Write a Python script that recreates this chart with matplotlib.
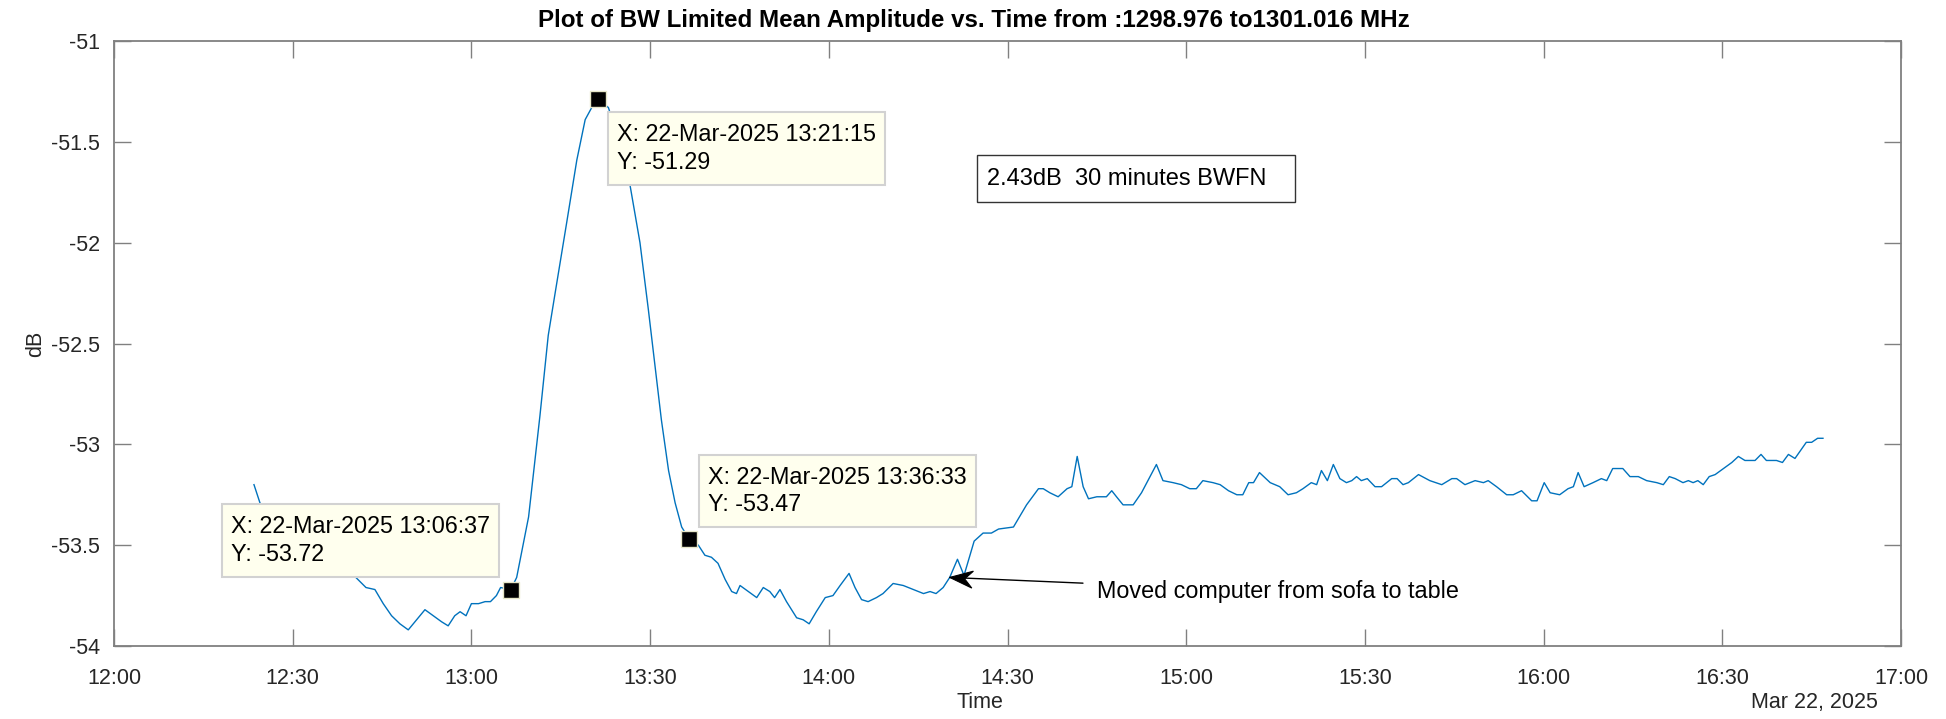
import datetime as dt
import numpy as np
import matplotlib
matplotlib.use("Agg")
import matplotlib.pyplot as plt
import matplotlib.dates as mdates
from matplotlib.patches import Rectangle, Polygon
from matplotlib.transforms import IdentityTransform
from matplotlib.ticker import FuncFormatter, MultipleLocator

plt.rcParams['font.family'] = ['Liberation Sans', 'DejaVu Sans']

# ---- data -------------------------------------------------------------
session_start = dt.datetime(2025, 3, 22, 12, 0, 0)

elapsed_min = [
    23.5, 24.5, 27.0, 30.0, 33.0, 36.0, 38.5, 40.6, 42.3, 43.8,
    45.2, 46.6, 48.0, 49.4, 50.8, 52.2, 53.6, 55.0, 56.1, 57.2,
    58.1, 59.1, 60.0, 61.2, 62.3, 63.2, 64.2, 64.9, 66.6167, 67.6,
    69.6, 71.5, 72.9, 74.0, 76.0, 77.7, 79.1, 80.2, 81.25, 83.0,
    84.8, 86.6, 88.3, 89.7, 91.9, 93.1, 94.2, 95.3, 96.55, 98.1,
    99.2, 100.3, 101.4, 102.6, 103.7, 104.5, 105.1, 106.5, 107.9, 109.0,
    110.1, 110.9, 111.8, 112.9, 114.6, 115.7, 116.7, 117.9, 119.4, 120.7,
    121.9, 123.4, 124.4, 125.5, 126.6, 128.0, 129.1, 130.8, 132.5, 134.2,
    135.9, 137.0, 138.0, 139.2, 140.3, 141.6, 142.7, 144.4, 145.9, 147.3,
    148.5, 151.0, 153.2, 155.2, 156.0, 157.1, 158.5, 160.0, 160.8, 161.7,
    162.7, 163.6, 165.0, 166.6, 167.5, 168.3, 169.4, 171.1, 172.5, 175.0,
    176.1, 177.8, 179.2, 180.6, 181.7, 182.8, 184.5, 185.7, 187.1, 188.5,
    189.5, 190.5, 191.3, 192.3, 194.1, 195.7, 197.1, 198.5, 199.6, 201.0,
    201.9, 202.7, 203.7, 204.7, 205.8, 206.9, 207.8, 208.6, 209.4, 210.4,
    211.7, 212.8, 214.5, 215.4, 216.4, 217.3, 219.0, 220.9, 222.9, 224.6,
    225.4, 226.8, 228.5, 229.9, 230.7, 232.1, 233.8, 234.9, 236.3, 238.0,
    238.9, 240.1, 241.1, 242.7, 244.1, 245.0, 245.8, 246.8, 248.3, 249.7,
    250.6, 251.6, 253.3, 254.5, 255.9, 257.3, 259.0, 260.1, 261.1, 262.1,
    263.4, 264.3, 265.1, 265.9, 266.8, 267.8, 268.8, 270.2, 271.6, 272.7,
    273.8, 275.5, 276.5, 277.4, 279.1, 280.1, 281.1, 282.2, 284.1, 285.0,
    286.0, 286.9,
]

mean_amp_db = [
    -53.20, -53.29, -53.40, -53.50, -53.57, -53.61, -53.64, -53.66, -53.71, -53.72,
    -53.79, -53.85, -53.89, -53.92, -53.87, -53.82, -53.85, -53.88, -53.90, -53.85,
    -53.83, -53.85, -53.79, -53.79, -53.78, -53.78, -53.75, -53.71, -53.72, -53.66,
    -53.36, -52.86, -52.46, -52.26, -51.90, -51.59, -51.39, -51.33, -51.29, -51.33,
    -51.50, -51.71, -52.00, -52.33, -52.88, -53.13, -53.29, -53.41, -53.47, -53.50,
    -53.55, -53.56, -53.59, -53.67, -53.73, -53.74, -53.70, -53.73, -53.76, -53.71,
    -53.73, -53.76, -53.72, -53.78, -53.86, -53.87, -53.89, -53.83, -53.76, -53.75,
    -53.70, -53.64, -53.71, -53.77, -53.78, -53.76, -53.74, -53.69, -53.70, -53.72,
    -53.74, -53.73, -53.74, -53.71, -53.66, -53.57, -53.65, -53.48, -53.44, -53.44,
    -53.42, -53.41, -53.30, -53.22, -53.22, -53.24, -53.26, -53.22, -53.21, -53.06,
    -53.21, -53.27, -53.26, -53.26, -53.23, -53.26, -53.30, -53.30, -53.24, -53.10,
    -53.18, -53.19, -53.20, -53.22, -53.22, -53.18, -53.19, -53.20, -53.23, -53.25,
    -53.25, -53.19, -53.19, -53.14, -53.19, -53.21, -53.25, -53.24, -53.22, -53.19,
    -53.20, -53.13, -53.18, -53.10, -53.17, -53.19, -53.18, -53.16, -53.18, -53.17,
    -53.21, -53.21, -53.17, -53.17, -53.20, -53.19, -53.15, -53.18, -53.20, -53.17,
    -53.17, -53.20, -53.18, -53.19, -53.18, -53.21, -53.25, -53.25, -53.23, -53.28,
    -53.28, -53.19, -53.24, -53.25, -53.22, -53.21, -53.14, -53.21, -53.19, -53.17,
    -53.18, -53.12, -53.12, -53.16, -53.16, -53.18, -53.19, -53.20, -53.16, -53.17,
    -53.19, -53.18, -53.19, -53.18, -53.20, -53.16, -53.15, -53.12, -53.09, -53.06,
    -53.08, -53.08, -53.05, -53.08, -53.08, -53.09, -53.05, -53.07, -52.99, -52.99,
    -52.97, -52.97,
]

# data tips: time of day and value
tip_times = ["13:06:37", "13:21:15", "13:36:33"]
tip_values = [-53.72, -51.29, -53.47]

# "moved computer" event
event_minute = 140.3
event_value = -53.66
event_text = "Moved computer from sofa to table"

summary_text = "2.43dB  30 minutes BWFN"
title_text = "Plot of BW Limited Mean Amplitude vs. Time from :1298.976 to1301.016 MHz"

# ---- build series ---------------------------------------------------
times = [session_start + dt.timedelta(minutes=m) for m in elapsed_min]
tip_dt = [dt.datetime.combine(session_start.date(),
                              dt.datetime.strptime(t, "%H:%M:%S").time())
          for t in tip_times]
event_dt = session_start + dt.timedelta(minutes=event_minute)
event_text_pos = (session_start + dt.timedelta(minutes=165.0), -53.73)

# ---- figure -----------------------------------------------------------
W, H, DPI = 1946, 719, 100
fig = plt.figure(figsize=(W / DPI, H / DPI), dpi=DPI)
ax = fig.add_axes([114 / W, 1 - 646 / H, (1901 - 114) / W, (646 - 41) / H])

axis_grey = "#808080"
text_dark = "#262626"
fs_tick = 15.5
fs_note = 16.8

ax.plot(times, mean_amp_db, color="#0072BD", lw=1.0, zorder=2)
ax.plot(tip_dt, tip_values, ls="none", marker="s", ms=11.5,
        mfc="black", mec="#E6E6C8", mew=1.0, zorder=5)

ax.set_xlim(session_start, session_start + dt.timedelta(hours=5))
ax.set_ylim(-54, -51)
ax.xaxis.set_major_locator(mdates.MinuteLocator(byminute=[0, 30]))
ax.xaxis.set_major_formatter(mdates.DateFormatter("%H:%M"))
ax.yaxis.set_major_locator(MultipleLocator(0.5))
ax.yaxis.set_major_formatter(FuncFormatter(lambda v, _: f"{v:g}"))

for s in ax.spines.values():
    s.set_color(axis_grey)
    s.set_linewidth(1.3)
ax.tick_params(direction="in", length=12.5, width=1.0, color=axis_grey,
               top=True, right=True, labelsize=fs_tick, labelcolor=text_dark)
ax.tick_params(axis="x", pad=16)
ax.tick_params(axis="y", pad=10)

fig.text(0.5003, 1 - 21 / H, title_text, fontsize=17.4, fontweight="bold",
         color="black", ha="center", va="center")
ax.set_xlabel("Time", fontsize=fs_tick, color=text_dark, va="center")
ax.set_ylabel("dB", fontsize=fs_tick, color=text_dark, va="center")
ax.xaxis.set_label_coords(0.4846, -0.0926)
ax.yaxis.set_label_coords(-0.0439, 0.5)
ax.text(0.9871, -0.0926, "Mar 22, 2025", transform=ax.transAxes,
        ha="right", va="center", fontsize=fs_tick, color=text_dark)

# data tips (text first, then a box fitted around each one)
tip_offsets = [(-21, 49), (19, -49), (19, 48)]
tip_align = ["right", "left", "left"]
tip_texts = []
for t, v, tstr, off, ha in zip(tip_dt, tip_values, tip_times, tip_offsets, tip_align):
    label = f"X: {t.strftime('%d-%b-%Y')} {tstr}\nY: {v:.2f}"
    tip_texts.append(ax.annotate(label, xy=(t, v), xytext=off,
                                 textcoords="offset pixels", ha=ha, va="center",
                                 multialignment="left", fontsize=fs_note,
                                 color="black", linespacing=1.25, zorder=7))

# event annotation: leader line from the text to the event point
ax.annotate(event_text, xy=(event_dt, event_value), xytext=event_text_pos,
            textcoords="data", ha="left", va="center", fontsize=fs_note,
            color="black", zorder=6,
            arrowprops=dict(arrowstyle="-", color="black", lw=1.0,
                            shrinkA=8, shrinkB=0))

# summary text box
ax.add_patch(Rectangle((0.4828, 0.7334), 0.1781, 0.0782, transform=ax.transAxes,
                       fc="white", ec="#333333", lw=1.0, zorder=6))
ax.text(0.4885, 0.7726, summary_text, transform=ax.transAxes, ha="left",
        va="center", fontsize=17, color="black", zorder=7)

fig.canvas.draw()
renderer = fig.canvas.get_renderer()

pad_x, pad_y = 9, 11
for txt in tip_texts:
    bb = txt.get_window_extent(renderer)
    ax.add_patch(Rectangle((bb.x0 - pad_x, bb.y0 - pad_y),
                           bb.width + 2 * pad_x, bb.height + 2 * pad_y,
                           transform=IdentityTransform(), fc="#FFFFEE",
                           ec="#D2D2D2", lw=1.5, zorder=6, clip_on=False))

# notched arrow head at the event point
tip_px = ax.transData.transform((mdates.date2num(event_dt), event_value))
tail_px = ax.transData.transform((mdates.date2num(event_text_pos[0]),
                                  event_text_pos[1]))
u = (tail_px - tip_px) / np.hypot(*(tail_px - tip_px))
n = np.array([-u[1], u[0]])
head_len, half_w, notch = 23, 8.5, 8
head = [tip_px,
        tip_px + u * head_len + n * half_w,
        tip_px + u * (head_len - notch),
        tip_px + u * head_len - n * half_w]
ax.add_patch(Polygon(head, closed=True, transform=IdentityTransform(),
                     fc="black", ec="black", lw=0.8, zorder=7, clip_on=False))

fig.savefig("out.png", dpi=DPI, facecolor="white")
